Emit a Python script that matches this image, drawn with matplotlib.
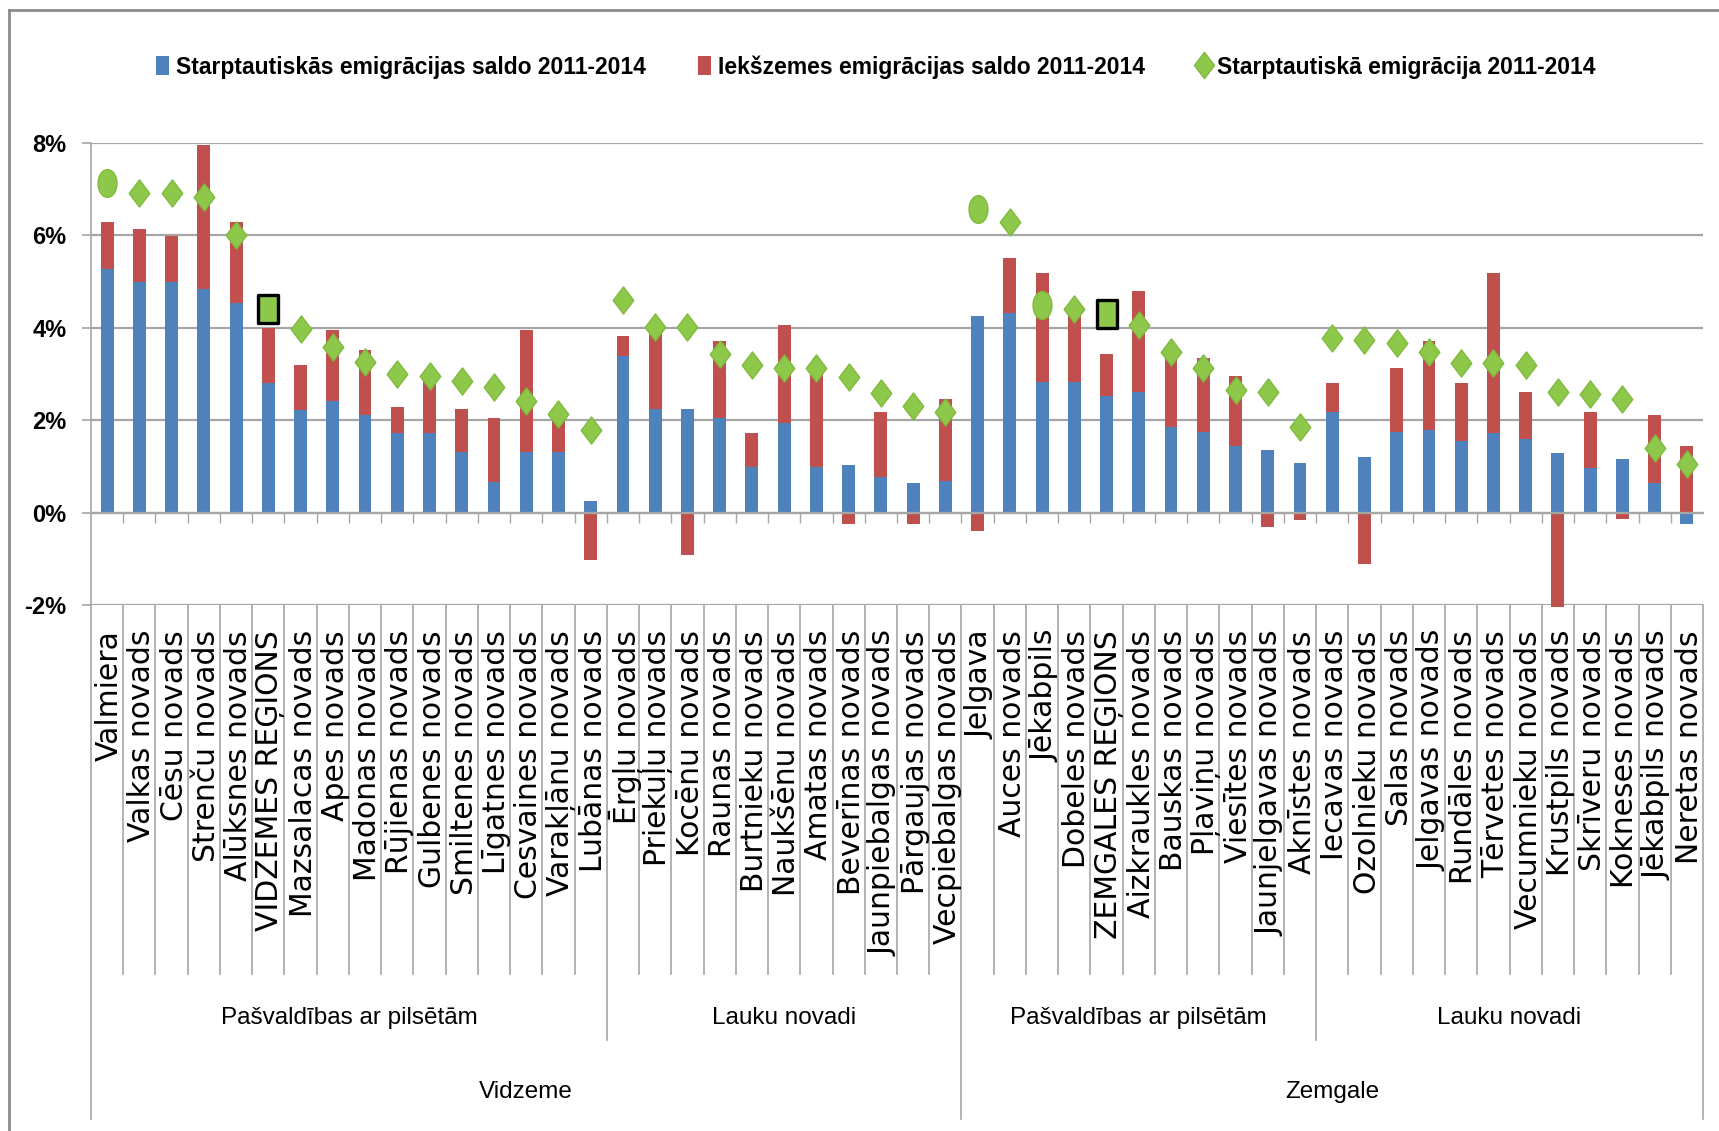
import numpy as np
import matplotlib
matplotlib.use("Agg")
import matplotlib.pyplot as plt
import matplotlib.transforms as mtransforms
from matplotlib.path import Path
from matplotlib.patches import Patch
from matplotlib.lines import Line2D
from matplotlib.ticker import PercentFormatter

# --- data (percent of population, 2011-2014) ---
names = [
    "Valmiera", "Valkas novads", "Cēsu novads", "Strenču novads", "Alūksnes novads",
    "VIDZEMES REĢIONS", "Mazsalacas novads", "Apes novads", "Madonas novads",
    "Rūjienas novads", "Gulbenes novads", "Smiltenes novads", "Līgatnes novads",
    "Cesvaines novads", "Varakļānu novads", "Lubānas novads",
    "Ērgļu novads", "Priekuļu novads", "Kocēnu novads", "Raunas novads",
    "Burtnieku novads", "Naukšēnu novads", "Amatas novads", "Beverīnas novads",
    "Jaunpiebalgas novads", "Pārgaujas novads", "Vecpiebalgas novads",
    "Jelgava", "Auces novads", "Jēkabpils", "Dobeles novads", "ZEMGALES REĢIONS",
    "Aizkraukles novads", "Bauskas novads", "Pļaviņu novads", "Viesītes novads",
    "Jaunjelgavas novads", "Aknīstes novads",
    "Iecavas novads", "Ozolnieku novads", "Salas novads", "Jelgavas novads",
    "Rundāles novads", "Tērvetes novads", "Vecumnieku novads", "Krustpils novads",
    "Skrīveru novads", "Kokneses novads", "Jēkabpils novads", "Neretas novads",
]
intl_saldo = [
    5.27, 4.99, 4.99, 4.84, 4.53, 2.80, 2.21, 2.41, 2.10, 1.71, 1.71, 1.32, 0.65,
    1.32, 1.32, 0.25,
    3.39, 2.25, 2.25, 2.05, 0.99, 1.93, 0.99, 1.03, 0.76, 0.64, 0.68,
    4.25, 4.32, 2.83, 2.83, 2.53, 2.60, 1.86, 1.74, 1.43, 1.35, 1.08,
    2.17, 1.20, 1.74, 1.79, 1.55, 1.71, 1.59, 1.28, 0.96, 1.15, 0.64, -0.25,
]
domestic_saldo = [
    1.01, 1.14, 1.00, 3.10, 1.75, 1.20, 0.98, 1.53, 1.41, 0.58, 1.21, 0.93, 1.40,
    2.62, 0.70, -1.03,
    0.43, 1.70, -0.92, 1.65, 0.72, 2.12, 2.06, -0.25, 1.41, -0.25, 1.77,
    -0.41, 1.19, 2.36, 1.52, 0.90, 2.20, 1.64, 1.61, 1.52, -0.32, -0.17,
    0.63, -1.11, 1.38, 1.91, 1.25, 3.48, 1.01, -2.05, 1.21, -0.13, 1.46, 1.43,
]
intl_emigration = [
    7.13, 6.92, 6.92, 6.82, 6.01, 4.40, 3.98, 3.59, 3.26, 3.00, 2.96, 2.85, 2.72,
    2.41, 2.13, 1.79,
    4.60, 4.02, 4.02, 3.43, 3.19, 3.12, 3.12, 2.93, 2.58, 2.31, 2.18,
    6.57, 6.29, 4.49, 4.40, 4.30, 4.05, 3.47, 3.12, 2.65, 2.60, 1.86,
    3.78, 3.73, 3.66, 3.47, 3.23, 3.23, 3.19, 2.60, 2.57, 2.45, 1.39, 1.04,
]
sub_groups = ["Pašvaldības ar pilsētām", "Lauku novadi",
              "Pašvaldības ar pilsētām", "Lauku novadi"]
sub_sizes = [16, 11, 11, 12]
regions = ["Vidzeme", "Zemgale"]
region_sizes = [27, 23]
legend_labels = ["Starptautiskās emigrācijas saldo 2011-2014",
                 "Iekšzemes emigrācijas saldo 2011-2014",
                 "Starptautiskā emigrācija 2011-2014"]

BLUE = "#4f81bd"
RED = "#c0504d"
GREEN = "#8dc84a"
GREEN_EDGE = "#7fbb3e"
GRID = "#a6a6a6"
NARROW = ["Liberation Sans", "DejaVu Sans"]

plt.rcParams["axes.unicode_minus"] = False

W, H = 1719, 1131
fig = plt.figure(figsize=(W / 100, H / 100), dpi=100)


def fx(px):
    return px / W


def fy(py):
    return 1 - py / H


ax = fig.add_axes([fx(91), fy(605), fx(1703 - 91), (605 - 142.7) / H])
x = np.arange(len(names))
blue = np.array(intl_saldo)
red = np.array(domestic_saldo)
red_bottom = np.where(red >= 0, np.maximum(blue, 0), np.minimum(blue, 0))

ax.bar(x, blue, width=0.4, color=BLUE, zorder=2, clip_on=False)
ax.bar(x, red, bottom=red_bottom, width=0.4, color=RED, zorder=2, clip_on=False)

# marker shapes (the source chart is stretched vertically)
diamond = Path([(0, 1), (0.76, 0), (0, -1), (-0.76, 0), (0, 1)], closed=True)
circ = Path.unit_circle()
ellipse = Path(circ.vertices * np.array([0.68, 1.0]), circ.codes)
rect = Path([(-0.7, -1), (0.7, -1), (0.7, 1), (-0.7, 1), (-0.7, -1)], closed=True)

emig = np.array(intl_emigration)
is_region = np.array(["REĢIONS" in n for n in names])
is_city = np.array([("novads" not in n) and ("REĢIONS" not in n) for n in names])
is_county = ~(is_region | is_city)

ax.plot(x[is_county], emig[is_county], ls="none", marker=diamond, ms=19.5,
        mfc=GREEN, mec=GREEN_EDGE, mew=1, zorder=4, clip_on=False)
ax.plot(x[is_city], emig[is_city], ls="none", marker=ellipse, ms=20,
        mfc=GREEN, mec=GREEN_EDGE, mew=1, zorder=4, clip_on=False)
ax.plot(x[is_region], emig[is_region], ls="none", marker=rect, ms=20.5,
        mfc=GREEN, mec="black", mew=2.4, zorder=4, clip_on=False)

ax.set_xlim(-0.5, len(names) - 0.5)
ax.set_ylim(-2, 8)
ax.set_yticks(np.arange(-2, 9, 2))
ax.yaxis.set_major_formatter(PercentFormatter(decimals=0))
ax.grid(axis="y", color=GRID, lw=1.6, zorder=0)
ax.set_axisbelow(True)

for s in ("top", "right"):
    ax.spines[s].set_visible(False)
ax.spines["left"].set_color(GRID)
ax.spines["left"].set_linewidth(1.2)
ax.spines["bottom"].set_position(("data", 0))
ax.spines["bottom"].set_color(GRID)
ax.spines["bottom"].set_linewidth(1.6)

bounds = np.arange(len(names) + 1) - 0.5
ax.set_xticks(bounds[1:-1])
ax.set_xticklabels([])
ax.tick_params(axis="x", direction="out", length=7, width=1, color=GRID)
ax.tick_params(axis="y", direction="out", length=6.5, width=1.2, color=GRID,
               pad=11, labelsize=17)
for lab in ax.get_yticklabels():
    lab.set_family(NARROW)
    lab.set_fontweight("bold")

# --- multi-level category axis ---
trans = mtransforms.blended_transform_factory(ax.transData, fig.transFigure)
for xi, n in zip(x, names):
    ax.text(xi + 0.08, fy(630), n, rotation=90, ha="center", va="top",
            transform=trans, fontsize=21.5, family="DejaVu Sans", clip_on=False)

sub_edges = np.concatenate([[0], np.cumsum(sub_sizes)]) - 0.5
reg_edges = np.concatenate([[0], np.cumsum(region_sizes)]) - 0.5
for b in bounds:
    bottom = 974
    if b in sub_edges:
        bottom = 1040
    if b in reg_edges:
        bottom = 1119
    ax.plot([b, b], [fy(605), fy(bottom)], transform=trans, color=GRID,
            lw=1.2, clip_on=False)

for lab, lo, hi in zip(sub_groups, sub_edges[:-1], sub_edges[1:]):
    ax.text((lo + hi) / 2, fy(1018), lab, ha="center", va="center",
            transform=trans, fontsize=17.5, family=NARROW, clip_on=False)
for lab, lo, hi in zip(regions, reg_edges[:-1], reg_edges[1:]):
    ax.text((lo + hi) / 2, fy(1092), lab, ha="center", va="center",
            transform=trans, fontsize=17.5, family=NARROW, clip_on=False)

# --- legend ---
handles = [
    Patch(facecolor=BLUE),
    Patch(facecolor=RED),
    Line2D([], [], ls="none", marker=diamond, ms=19, mfc=GREEN, mec=GREEN_EDGE),
]
fig.legend(handles, legend_labels, loc="center", bbox_to_anchor=(fx(876), fy(67)),
           ncol=3, frameon=False, handlelength=0.55, handleheight=0.9,
           handletextpad=0.3, columnspacing=2.3,
           prop=dict(family=NARROW, weight="bold", size=16.5))

# chart area border (right/bottom edges fall outside the picture)
fig.add_artist(Line2D([fx(9), fx(9)], [fy(10), 0], color="#8c8c8c", lw=2))
fig.add_artist(Line2D([fx(9), 1], [fy(10), fy(10)], color="#8c8c8c", lw=2))

fig.savefig("out.png", dpi=100)
